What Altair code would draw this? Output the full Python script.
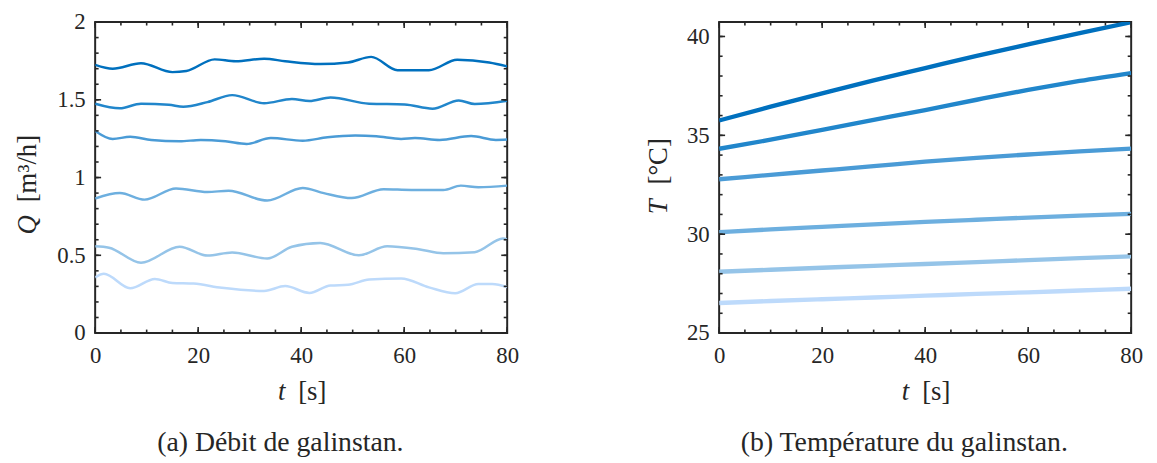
import altair as alt
import pandas as pd

# ---------------- data ----------------
series = ["1", "2", "3", "4", "5", "6"]
colors = ["#0070BE", "#2186CB", "#4A9BD6", "#6DAFDF", "#95C4E8", "#BDDAFB"]

# (a) flow rate Q [m3/h] vs t [s]
q1_t = [0, 3.4, 8.9, 15, 17.7, 23.2, 27.3, 32.8, 36.9, 43.7, 49.1, 53.6, 58.7, 64.8, 70.3, 76.5, 80]
q1 = [1.725, 1.70, 1.735, 1.678, 1.685, 1.76, 1.748, 1.764, 1.748, 1.73, 1.74, 1.776, 1.69, 1.69, 1.758, 1.74, 1.715]
q2_t = [0, 4.8, 8.9, 14.3, 17.1, 21.8, 26.6, 32.8, 38.2, 41.6, 45.7, 53.2, 60.1, 65.5, 70.6, 73.7, 80]
q2 = [1.475, 1.445, 1.475, 1.468, 1.455, 1.485, 1.53, 1.478, 1.505, 1.492, 1.515, 1.475, 1.47, 1.443, 1.496, 1.473, 1.494]
q3_t = [0, 3.4, 6.8, 10.9, 16.4, 20.5, 25.3, 29.4, 34.1, 40.3, 45.1, 50.5, 54.6, 59.4, 62.1, 66.9, 73, 77.8, 80]
q3 = [1.30, 1.248, 1.262, 1.242, 1.233, 1.242, 1.233, 1.216, 1.254, 1.237, 1.259, 1.27, 1.265, 1.248, 1.254, 1.242, 1.267, 1.242, 1.244]
q4_t = [0, 4.8, 9.6, 15.7, 21.8, 25.9, 33.4, 40.3, 44.4, 49.8, 56, 61.4, 67.6, 71, 74.4, 80]
q4 = [0.865, 0.9, 0.858, 0.93, 0.907, 0.915, 0.852, 0.933, 0.9, 0.868, 0.925, 0.92, 0.92, 0.948, 0.938, 0.948]
q5_t = [0, 2.7, 8.9, 16.4, 21.8, 26.6, 33.4, 38.2, 43.7, 51.2, 56.7, 62.8, 67.6, 73.7, 79.2, 80]
q5 = [0.558, 0.549, 0.452, 0.555, 0.498, 0.518, 0.479, 0.555, 0.579, 0.50, 0.558, 0.539, 0.513, 0.52, 0.608, 0.602]
q6_t = [0, 1.7, 6.8, 11.6, 15, 19.1, 24.6, 32.8, 36.9, 41.6, 45.7, 49.1, 53.2, 59.4, 64.8, 69.9, 74.4, 77.1, 80]
q6 = [0.358, 0.381, 0.288, 0.348, 0.322, 0.318, 0.291, 0.271, 0.302, 0.258, 0.306, 0.31, 0.344, 0.351, 0.294, 0.256, 0.315, 0.315, 0.296]

# (b) temperature T [degC] vs t [s]
tt = [0, 10, 20, 30, 40, 50, 60, 70, 80]
T1 = [35.75, 36.45, 37.12, 37.78, 38.4, 39.02, 39.6, 40.17, 40.72]
T2 = [34.32, 34.78, 35.28, 35.78, 36.28, 36.8, 37.3, 37.75, 38.15]
T3 = [32.78, 33.0, 33.22, 33.44, 33.67, 33.86, 34.03, 34.19, 34.33]
T4 = [30.1, 30.24, 30.37, 30.5, 30.62, 30.73, 30.84, 30.94, 31.03]
T5 = [28.1, 28.2, 28.3, 28.4, 28.49, 28.59, 28.69, 28.79, 28.88]
T6 = [26.52, 26.62, 26.71, 26.8, 26.89, 26.98, 27.06, 27.15, 27.24]

x_major = [0, 20, 40, 60, 80]
x_minor = [i * 5 for i in range(17)]
qy_major = [0, 0.5, 1, 1.5, 2]
qy_minor = [round(i * 0.1, 1) for i in range(21)]
ty_major = [25, 30, 35, 40]
ty_minor = list(range(25, 41))

# ---------------- tables ----------------
rows = []
for s, ts, qs in zip(series, [q1_t, q2_t, q3_t, q4_t, q5_t, q6_t], [q1, q2, q3, q4, q5, q6]):
    rows += [{"s": s, "t": a, "v": b} for a, b in zip(ts, qs)]
df_q = pd.DataFrame(rows)
rows = []
for s, vs in zip(series, [T1, T2, T3, T4, T5, T6]):
    rows += [{"s": s, "t": a, "v": b} for a, b in zip(tt, vs)]
df_T = pd.DataFrame(rows)

FONT = "Liberation Serif"
AX = "#262626"
W, H = 416, 314
MAJ, MIN = 6, 3.5


def panel(df, ydom, ymaj, ymin, lw, ytitle_parts, ytitle_x, ytitle_y, caption):
    xs = alt.Scale(domain=[0, 80], nice=False, zero=False)
    ys = alt.Scale(domain=ydom, nice=False, zero=False)
    cs = alt.Scale(domain=series, range=colors)
    xax = alt.Axis(values=x_major, ticks=False, tickSize=0, domain=False, grid=False,
                   labelFont=FONT, labelFontSize=23, labelColor=AX, labelPadding=12,
                   labelFlush=False, title=None)
    yax = alt.Axis(values=ymaj, ticks=False, tickSize=0, domain=False, grid=False,
                   labelFont=FONT, labelFontSize=23, labelColor=AX, labelPadding=10,
                   format="~g", title=None)
    lines = alt.Chart(df).mark_line(strokeWidth=lw, interpolate="monotone", clip=True).encode(
        x=alt.X("t:Q", scale=xs, axis=xax),
        y=alt.Y("v:Q", scale=ys, axis=yax),
        color=alt.Color("s:N", scale=cs, legend=None),
    )
    layers = [lines]
    for vals, ln in ((x_major, MAJ), (x_minor, MIN)):
        base = alt.Chart(pd.DataFrame({"t": vals})).mark_rule(color=AX, strokeWidth=1.6)
        layers.append(base.encode(x=alt.X("t:Q", scale=xs, axis=xax), y=alt.value(H), y2=alt.value(H - ln)))
        layers.append(base.encode(x=alt.X("t:Q", scale=xs, axis=xax), y=alt.value(0), y2=alt.value(ln)))
    for vals, ln in ((ymaj, MAJ), (ymin, MIN)):
        base = alt.Chart(pd.DataFrame({"v": vals})).mark_rule(color=AX, strokeWidth=1.6)
        layers.append(base.encode(y=alt.Y("v:Q", scale=ys, axis=yax), x=alt.value(0), x2=alt.value(ln)))
        layers.append(base.encode(y=alt.Y("v:Q", scale=ys, axis=yax), x=alt.value(W), x2=alt.value(W - ln)))

    one = pd.DataFrame({"k": [0]})
    # x title: italic t + [s]
    layers.append(alt.Chart(one).mark_text(text="t", font=FONT, fontSize=27, fontStyle="italic",
                                           color=AX, align="right", baseline="middle").encode(
        x=alt.value(W / 2 - 16), y=alt.value(H + 60)))
    layers.append(alt.Chart(one).mark_text(text="[s]", font=FONT, fontSize=27, color=AX,
                                           align="left", baseline="middle").encode(
        x=alt.value(W / 2 - 3), y=alt.value(H + 60)))
    # y title
    sym, unit = ytitle_parts
    ysym, yunit = ytitle_y
    layers.append(alt.Chart(one).mark_text(text=sym, font=FONT, fontSize=27, fontStyle="italic",
                                           color=AX, align="right", baseline="middle", angle=270).encode(
        x=alt.value(ytitle_x), y=alt.value(ysym)))
    layers.append(alt.Chart(one).mark_text(text=unit, font=FONT, fontSize=27, color=AX,
                                           align="left", baseline="middle", angle=270).encode(
        x=alt.value(ytitle_x), y=alt.value(yunit)))
    # caption
    layers.append(alt.Chart(one).mark_text(text=caption, font=FONT, fontSize=28, color=AX,
                                           align="center", baseline="middle").encode(
        x=alt.value(187), y=alt.value(H + 111)))
    return alt.layer(*layers).properties(width=W, height=H)


left = panel(df_q, [0, 2], qy_major, qy_minor, 2.5, ("Q", "[m³/h]"), -68, (195, 182),
             "(a) Débit de galinstan.")
right = panel(df_T, [25, 40.73], ty_major, ty_minor, 4.4, ("T", "[°C]"), -61, (179, 164),
              "(b) Température du galinstan.")

chart = alt.hconcat(left, right, spacing=214, bounds="flush").properties(
    padding={"left": 5, "top": 0, "right": 5, "bottom": 0}
).configure_view(stroke=AX, strokeWidth=2)

chart.save("out.html", embed_options={"renderer": "svg", "actions": False})
